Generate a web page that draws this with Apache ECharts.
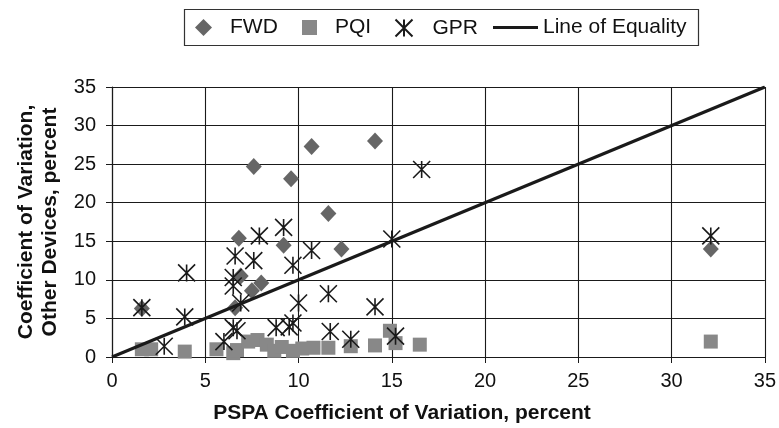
<!DOCTYPE html>
<html>
<head>
<meta charset="utf-8">
<script src="https://cdn.jsdelivr.net/npm/echarts@6/dist/echarts.min.js"></script>
<style>
  html, body { margin: 0; padding: 0; background: #fff; }
  #chart { width: 779px; height: 428px; }
</style>
</head>
<body>
<div id="chart"></div>
<script>
// Coefficient of variation: PSPA (x) against the other devices (y), percent
const fwdPoints = [
  [1.6, 6.3], [6.6, 6.4], [7.5, 8.6], [8.0, 9.6], [6.9, 10.5], [6.8, 15.4],
  [9.2, 14.5], [7.6, 24.7], [9.6, 23.1], [10.7, 27.3], [14.1, 28.0],
  [11.6, 18.6], [12.3, 14.0], [32.1, 14.0]
];
const pqiPoints = [
  [1.6, 1.0], [2.1, 1.0], [3.9, 0.7], [5.6, 1.0], [6.5, 0.5], [6.7, 0.9],
  [7.3, 2.0], [7.8, 2.2], [8.3, 1.6], [8.7, 0.8], [9.1, 1.3], [9.7, 0.8],
  [10.2, 1.1], [10.8, 1.2], [11.6, 1.2], [12.8, 1.4], [14.1, 1.5],
  [14.9, 3.4], [15.2, 1.8], [16.5, 1.6], [32.1, 2.0]
];
const gprPoints = [
  [1.6, 6.4], [2.8, 1.4], [3.9, 5.2], [4.0, 10.9], [6.0, 2.0], [6.5, 3.8],
  [6.7, 3.4], [6.5, 10.3], [6.5, 9.2], [6.6, 13.1], [6.9, 7.0], [7.6, 12.5],
  [7.9, 15.7], [8.8, 3.8], [9.2, 16.8], [9.5, 3.9], [9.7, 4.4], [9.7, 11.9],
  [10.0, 7.0], [10.7, 13.8], [11.6, 8.2], [11.7, 3.3], [12.8, 2.3],
  [14.1, 6.5], [15.0, 15.3], [15.2, 2.7], [16.6, 24.3], [32.1, 15.7]
];
const equalityLine = [[0, 0], [35, 35]];
const seriesNames = ['FWD', 'PQI', 'GPR', 'Line of Equality'];
const axisMin = 0, axisMax = 35, axisStep = 5;

const FONT = 'Arial, "Liberation Sans", sans-serif';
const asterisk = 'path://M0,0L10,10M10,0L0,10M5,0L5,10';

const axisCommon = {
  type: 'value', min: axisMin, max: axisMax, interval: axisStep,
  axisLine: { show: true, onZero: false, lineStyle: { color: '#1a1a1a', width: 1.2 } },
  axisTick: { show: true, inside: false, length: 6, lineStyle: { color: '#1a1a1a', width: 1 } },
  splitLine: { show: true, lineStyle: { color: '#1a1a1a', width: 1.1 } },
  axisLabel: { color: '#111', fontFamily: FONT, fontSize: 20 }
};

// one legend block per series so each icon and label can sit where it belongs
function legendItem(item, left, iconW, iconH, textGap) {
  return {
    data: [item], left: left, top: 17, itemWidth: iconW, itemHeight: iconH,
    itemGap: 0, padding: 0, selectedMode: false,
    textStyle: { fontFamily: FONT, fontSize: 21, color: '#111', padding: [0, 0, 0, textGap] }
  };
}

const chart = echarts.init(document.getElementById('chart'), null, { renderer: 'canvas' });
chart.setOption({
  animation: false,
  backgroundColor: '#fff',
  grid: { left: 112, right: 11, top: 87, bottom: 71, containLabel: false },
  xAxis: Object.assign({}, axisCommon, { axisLabel: Object.assign({}, axisCommon.axisLabel, { margin: 14 }) }),
  yAxis: Object.assign({}, axisCommon, { axisLabel: Object.assign({}, axisCommon.axisLabel, { margin: 16 }) }),
  legend: [
    legendItem('FWD', 195, 17, 17, 13),
    legendItem('PQI', 302, 15, 15, 13),
    legendItem('GPR', 393, 17, 17, 15),
    legendItem({ name: 'Line of Equality', icon: 'rect' }, 493, 45, 3, 0)
  ],
  graphic: [
    { type: 'rect', left: 182, top: 7, shape: { width: 514, height: 36 },
      style: { fill: 'none', stroke: '#333', lineWidth: 1.2 }, z: -1 },
    { type: 'text', x: 402, y: 413,
      style: { text: 'PSPA Coefficient of Variation, percent', font: 'bold 21px ' + FONT,
               fill: '#111', align: 'center', verticalAlign: 'middle' } },
    { type: 'text', x: 38, y: 222, rotation: Math.PI / 2,
      style: { text: 'Coefficient of Variation,\nOther Devices, percent', font: 'bold 21px ' + FONT,
               fill: '#111', align: 'center', verticalAlign: 'middle', lineHeight: 24 } }
  ],
  series: [
    { name: seriesNames[0], type: 'scatter', data: fwdPoints, symbol: 'diamond',
      symbolSize: [16, 17], itemStyle: { color: '#666', opacity: 1 }, z: 2 },
    { name: seriesNames[1], type: 'scatter', data: pqiPoints, symbol: 'rect',
      symbolSize: 14, itemStyle: { color: '#888', opacity: 1 }, z: 3 },
    { name: seriesNames[2], type: 'scatter', data: gprPoints, symbol: asterisk,
      symbolSize: 17, itemStyle: { color: 'none', borderColor: '#1a1a1a', borderWidth: 1.6, opacity: 1 }, z: 4 },
    { name: seriesNames[3], type: 'line', data: equalityLine, showSymbol: false, symbol: 'none',
      lineStyle: { color: '#1a1a1a', width: 3.2 }, itemStyle: { color: '#1a1a1a' }, z: 5 }
  ]
});
</script>
</body>
</html>
